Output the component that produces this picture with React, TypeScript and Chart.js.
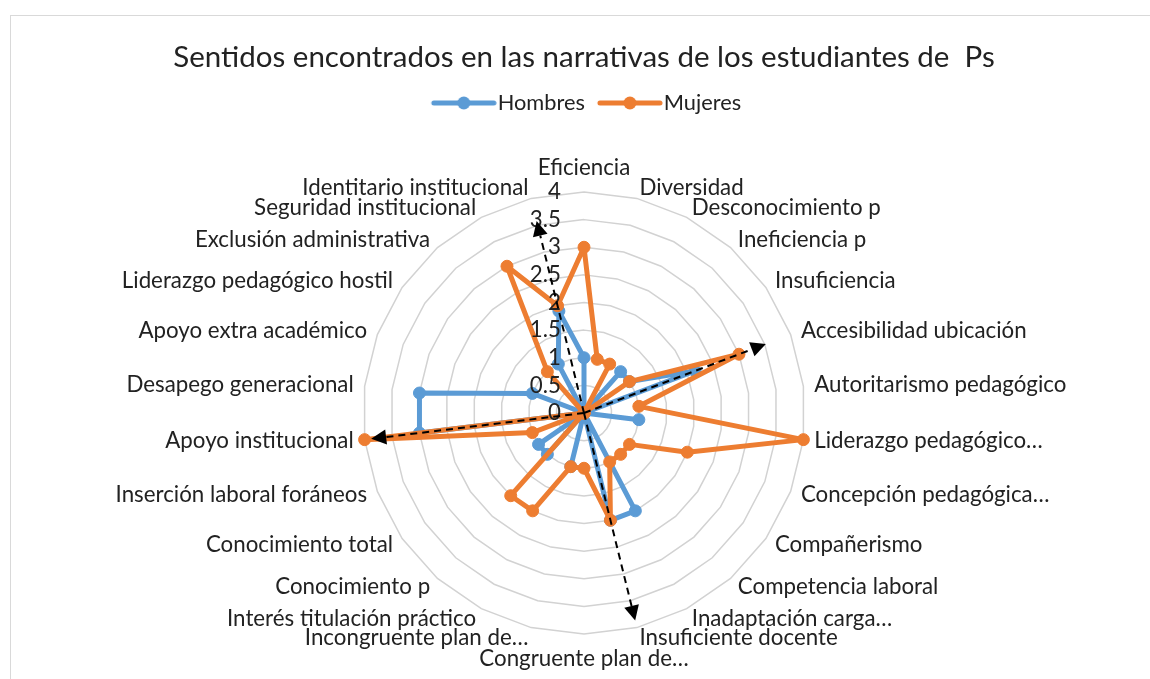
import React, { useEffect, useRef } from 'react';
import { Chart, registerables } from 'chart.js';

Chart.register(...registerables);

const categories = [
  'Eficiencia',
  'Diversidad',
  'Desconocimiento p',
  'Ineficiencia p',
  'Insuficiencia',
  'Accesibilidad ubicación',
  'Autoritarismo pedagógico',
  'Liderazgo pedagógico…',
  'Concepción pedagógica…',
  'Compañerismo',
  'Competencia laboral',
  'Inadaptación carga…',
  'Insuficiente docente',
  'Congruente plan de…',
  'Incongruente plan de…',
  'Interés titulación práctico',
  'Conocimiento p',
  'Conocimiento total',
  'Inserción laboral foráneos',
  'Apoyo institucional',
  'Desapego generacional',
  'Apoyo extra académico',
  'Liderazgo pedagógico hostil',
  'Exclusión administrativa',
  'Seguridad institucional',
  'Identitario institucional',
];

const hombres = [1, 0, 0, 1, 1, 2.15, 0, 1, 0, 0, 0, 2, 2, 0, 1, 0, 1, 1, 0, 3, 3, 1, 0, 0, 1, 1.9];
const mujeres = [3, 1, 1, 0, 1, 3, 1, 4, 2, 1, 1, 1, 2, 1, 1, 2, 2, 0, 1, 4, 0, 0, 0, 1, 3, 2];

const tickValues = [0, 0.5, 1, 1.5, 2, 2.5, 3, 3.5, 4];
const tickLabels = ['0', '0.5', '1', '1.5', '2', '2.5', '3', '3.5', '4'];

// dashed annotation arrows: category index and value reached by the tip
const arrowIndex = [25, 5, 19, 12];
const arrowValue = [3.58, 3.52, 3.88, 3.87];

const TITLE = 'Sentidos encontrados en las narrativas de los estudiantes de  Ps';
const FONT = 'Lato, "Open Sans", "Noto Sans", sans-serif';
const TEXT = '#222222';
const BLUE = '#5B9BD5';
const ORANGE = '#ED7D31';
const LABEL_SIZE = 22.3;
const LEGEND_SIZE = 21.8;
const LABEL_PAD = 11;

function makeIcon(color: string): HTMLCanvasElement {
  const c = document.createElement('canvas');
  c.width = 80;
  c.height = 14;
  const ctx = c.getContext('2d')!;
  ctx.strokeStyle = color;
  ctx.lineWidth = 5;
  ctx.lineCap = 'round';
  ctx.beginPath();
  ctx.moveTo(17, 7);
  ctx.lineTo(77, 7);
  ctx.stroke();
  ctx.fillStyle = color;
  ctx.beginPath();
  ctx.arc(47, 7, 6.5, 0, Math.PI * 2);
  ctx.fill();
  return c;
}

const labelPlugin = {
  id: 'catLabels',
  beforeDatasetsDraw(chart: any) {
    const s = chart.scales.r;
    const ctx = chart.ctx as CanvasRenderingContext2D;
    const n = categories.length;
    const h = LABEL_SIZE * 1.2;
    ctx.save();
    ctx.font = `${LABEL_SIZE}px ${FONT}`;
    ctx.fillStyle = TEXT;
    ctx.textBaseline = 'middle';
    categories.forEach((lab, i) => {
      const p = s.getPointPosition(i, s.drawingArea + LABEL_PAD);
      const deg = (i * 360) / n;
      let y = p.y;
      if (Math.abs(deg) < 0.01) {
        ctx.textAlign = 'center';
        y = p.y - h / 2;
      } else if (Math.abs(deg - 180) < 0.01) {
        ctx.textAlign = 'center';
        y = p.y + h / 2;
      } else if (deg < 180) {
        ctx.textAlign = 'left';
      } else {
        ctx.textAlign = 'right';
      }
      ctx.fillText(lab, p.x, y);
    });
    ctx.restore();
  },
};

const overlayPlugin = {
  id: 'overlay',
  afterDatasetsDraw(chart: any) {
    const s = chart.scales.r;
    const ctx = chart.ctx as CanvasRenderingContext2D;
    ctx.save();
    ctx.font = `${LABEL_SIZE}px ${FONT}`;
    ctx.fillStyle = TEXT;
    ctx.textAlign = 'right';
    ctx.textBaseline = 'middle';
    tickValues.forEach((v, i) => {
      const d = s.getDistanceFromCenterForValue(v);
      ctx.fillText(tickLabels[i], s.xCenter - 23, s.yCenter - d);
    });

    ctx.strokeStyle = '#000';
    ctx.fillStyle = '#000';
    ctx.lineWidth = 2;
    arrowIndex.forEach((idx, k) => {
      const tip = s.getPointPosition(idx, s.getDistanceFromCenterForValue(arrowValue[k]));
      const ang = Math.atan2(tip.y - s.yCenter, tip.x - s.xCenter);
      const head = 15;
      const half = 7.5;
      const bx = tip.x - head * Math.cos(ang);
      const by = tip.y - head * Math.sin(ang);
      ctx.setLineDash([7, 5]);
      ctx.beginPath();
      ctx.moveTo(s.xCenter, s.yCenter);
      ctx.lineTo(bx, by);
      ctx.stroke();
      ctx.setLineDash([]);
      ctx.beginPath();
      ctx.moveTo(tip.x, tip.y);
      ctx.lineTo(bx + half * Math.sin(ang), by - half * Math.cos(ang));
      ctx.lineTo(bx - half * Math.sin(ang), by + half * Math.cos(ang));
      ctx.closePath();
      ctx.fill();
    });
    ctx.restore();
  },
};

export default function App() {
  const ref = useRef<HTMLCanvasElement | null>(null);

  useEffect(() => {
    if (!ref.current) return;
    const icons = [makeIcon(BLUE), makeIcon(ORANGE)];
    const chart = new Chart(ref.current, {
      type: 'radar',
      data: {
        labels: categories,
        datasets: [
          {
            label: 'Hombres',
            data: hombres,
            borderColor: BLUE,
            backgroundColor: BLUE,
            borderWidth: 5,
            borderJoinStyle: 'round',
            pointRadius: 6,
            pointBackgroundColor: BLUE,
            pointBorderColor: BLUE,
            pointBorderWidth: 1,
            fill: false,
            order: 2,
          },
          {
            label: 'Mujeres',
            data: mujeres,
            borderColor: ORANGE,
            backgroundColor: ORANGE,
            borderWidth: 5,
            borderJoinStyle: 'round',
            pointRadius: 6,
            pointBackgroundColor: ORANGE,
            pointBorderColor: ORANGE,
            pointBorderWidth: 1,
            fill: false,
            order: 1,
          },
        ],
      },
      options: {
        responsive: false,
        animation: false,
        devicePixelRatio: 1,
        events: [],
        layout: { padding: { left: 18, right: 0, top: 0, bottom: 45 } },
        scales: {
          r: {
            min: 0,
            max: 4,
            ticks: { stepSize: 0.5, display: false },
            grid: { color: '#d2d2d2', lineWidth: 1.5, circular: false },
            angleLines: { display: false },
            pointLabels: { display: false },
          },
        },
        plugins: {
          title: {
            display: true,
            text: TITLE,
            color: TEXT,
            font: { family: FONT, size: 29.5, weight: 'normal' },
            padding: { top: 39.3, bottom: 9.4 },
          },
          legend: {
            display: true,
            position: 'top',
            labels: {
              usePointStyle: true,
              pointStyleWidth: 60,
              padding: 8,
              color: TEXT,
              font: { family: FONT, size: LEGEND_SIZE },
              sort: (a: any, b: any) => a.datasetIndex - b.datasetIndex,
              generateLabels: (c: any) => {
                const items = (Chart.defaults.plugins.legend.labels as any).generateLabels(c);
                items.forEach((it: any) => {
                  it.pointStyle = icons[it.datasetIndex];
                });
                return items;
              },
            },
          },
          subtitle: {
            display: true,
            text: '',
            weight: 500,
            position: 'top',
            font: { size: 10 },
            padding: { top: 56.1, bottom: 0 },
          },
          tooltip: { enabled: false },
        },
      } as any,
      plugins: [labelPlugin, overlayPlugin],
    });
    return () => chart.destroy();
  }, []);

  return (
    <div
      style={{
        position: 'fixed',
        left: 0,
        top: 0,
        width: 1150,
        height: 679,
        background: '#fff',
        overflow: 'hidden',
      }}
    >
      <div
        style={{
          position: 'absolute',
          left: 10,
          top: 15,
          width: 1160,
          height: 700,
          border: '1px solid #d9d9d9',
        }}
      />
      <canvas
        ref={ref}
        width={1150}
        height={679}
        style={{ position: 'absolute', left: 0, top: 0, width: 1150, height: 679 }}
      />
    </div>
  );
}
